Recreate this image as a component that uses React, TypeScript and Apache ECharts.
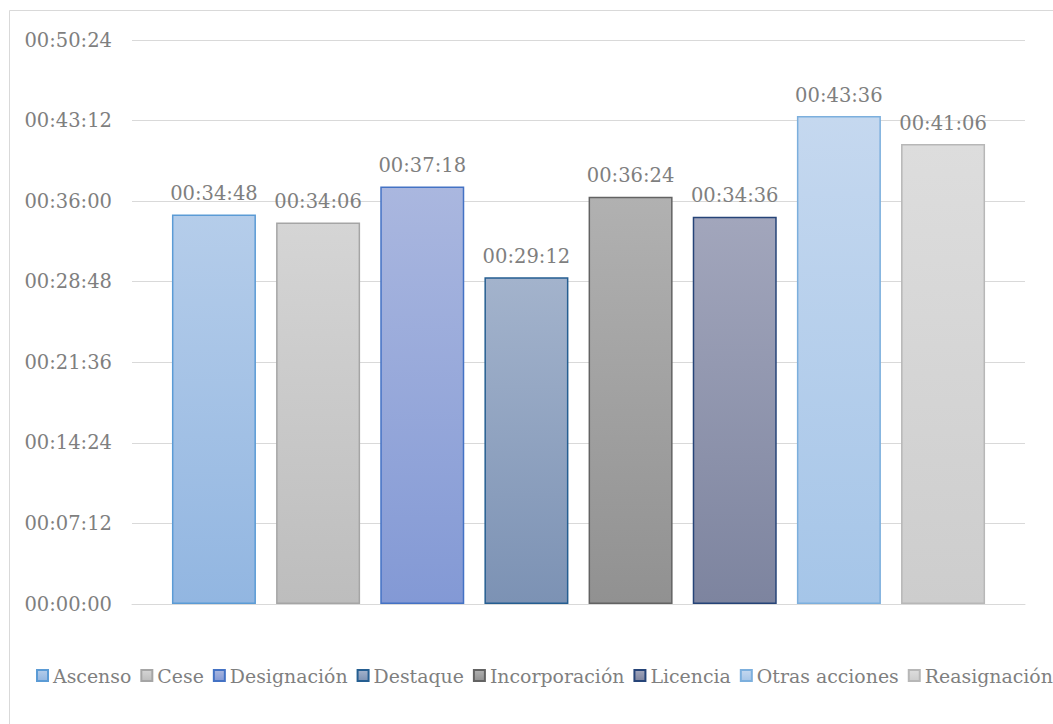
import React, { useEffect, useRef } from "react";
import * as echarts from "echarts";

const seriesNames = ["Ascenso", "Cese", "Designación", "Destaque", "Incorporación", "Licencia", "Otras acciones", "Reasignación"];
// durations in seconds (hh:mm:ss)
const seriesValues = [2088, 2046, 2238, 1752, 2184, 2076, 2616, 2466];
const topColors = ["#b5cdea", "#d5d5d5", "#aab7df", "#a3b3cc", "#b1b1b1", "#a2a6bc", "#c5d8ef", "#dddddd"];
const bottomColors = ["#92b6e1", "#bdbdbd", "#8399d5", "#7c92b4", "#919191", "#7d849f", "#a5c5e8", "#cdcdcd"];
const borderColors = ["#5b9bd5", "#a5a5a5", "#4472c4", "#255e91", "#636363", "#264478", "#7cafdd", "#b7b7b7"];
const yMax = 3024;
const yInterval = 432;

const FONT = "DejaVu Serif";

function fmt(v: number): string {
  const s = Math.round(v);
  const h = Math.floor(s / 3600);
  const m = Math.floor((s % 3600) / 60);
  const sec = s % 60;
  const p = (n: number) => (n < 10 ? "0" + n : "" + n);
  return `${p(h)}:${p(m)}:${p(sec)}`;
}

export default function App() {
  const ref = useRef<HTMLDivElement>(null);
  useEffect(() => {
    document.body.style.margin = "0";
    const chart = echarts.init(ref.current!, null, { renderer: "svg" });
    chart.setOption({
      animation: false,
      backgroundColor: "#ffffff",
      textStyle: { fontFamily: FONT, fontSize: 19.5 },
      graphic: [
        {
          type: "rect",
          shape: { x: 9.5, y: 10.5, width: 1200, height: 900 },
          style: { fill: "none", stroke: "#d9d9d9", lineWidth: 1 },
          silent: true,
        },
      ],
      grid: { left: 132, right: 28, top: 40, bottom: 120 },
      legend: {
        left: 31,
        top: 661,
        width: 1040,
        itemWidth: 11,
        itemHeight: 11,
        itemGap: 9,
        icon: "rect",
        textStyle: { fontFamily: FONT, fontSize: 18.9, color: "#7f7f7f" },
        data: seriesNames,
      },
      xAxis: {
        type: "category",
        data: [""],
        axisLine: { show: true, lineStyle: { color: "#d9d9d9", width: 1 } },
        axisTick: { show: false },
        axisLabel: { show: false },
      },
      yAxis: {
        type: "value",
        min: 0,
        max: yMax,
        interval: yInterval,
        axisLine: { show: false },
        axisTick: { show: false },
        axisLabel: {
          formatter: (v: number) => fmt(v),
          fontFamily: FONT,
          fontSize: 19.5,
          color: "#7f7f7f",
          margin: 20,
        },
        splitLine: { lineStyle: { color: "#d9d9d9", width: 1 } },
      },
      series: seriesNames.map((name, i) => ({
        name,
        type: "bar",
        data: [seriesValues[i]],
        barWidth: 84,
        barGap: "24%",
        itemStyle: {
          color: new echarts.graphic.LinearGradient(0, 0, 0, 1, [
            { offset: 0, color: topColors[i] },
            { offset: 1, color: bottomColors[i] },
          ]),
          borderColor: borderColors[i],
          borderWidth: 1.5,
        },
        label: {
          show: true,
          position: "top",
          distance: 11,
          formatter: (p: any) => fmt(p.value),
          fontFamily: FONT,
          fontSize: 19.5,
          color: "#7f7f7f",
        },
      })),
    });
    return () => chart.dispose();
  }, []);
  return <div ref={ref} style={{ width: 1053, height: 724 }} />;
}
